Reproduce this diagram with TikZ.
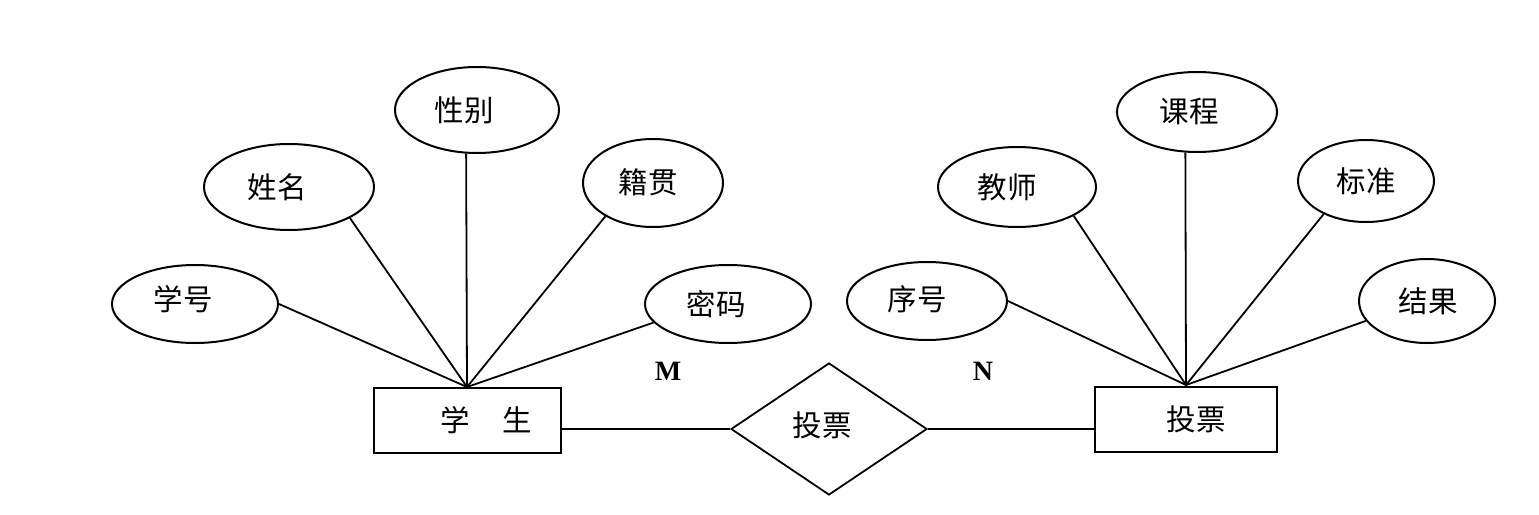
\documentclass[tikz,border=0pt]{standalone}
\usepackage{fontspec}
\setmainfont{Liberation Serif}
\newfontfamily\cjk{Noto Sans CJK SC}
\usetikzlibrary{shapes.geometric}
\newcommand\shifted[3]{\hspace*{#1pt}\raisebox{#2pt}{#3}}
\begin{document}
\begin{tikzpicture}[x=1pt,y=-1pt,
  attr/.style={draw,line width=2pt,ellipse,inner sep=0pt,font=\cjk\fontsize{29.5}{29.5}\selectfont},
  ent/.style={draw,line width=2pt,rectangle,inner sep=0pt,font=\cjk\fontsize{29.5}{29.5}\selectfont},
  rel/.style={draw,line width=1.8pt,diamond,aspect=1.5,inner sep=0pt,font=\cjk\fontsize{29.5}{29.5}\selectfont},
  link/.style={line width=1.8pt},
  card/.style={font=\bfseries\fontsize{28}{28}\selectfont}]
\useasboundingbox (0,0) rectangle (1539,514);
\fill[white] (0,0) rectangle (1539,514);
\node[ent,minimum width=187pt,minimum height=65pt] (s) at (467,420.5) {\shifted{39}{-5}{学\hspace{33pt}生}};
\node[ent,minimum width=182pt,minimum height=65pt] (v) at (1186,419) {\shifted{20}{-6}{投票}};
\node[rel,minimum width=196pt,minimum height=132pt] (r) at (829,429) {\shifted{-14}{10}{投票}};
\coordinate (sa) at (467,387);
\coordinate (va) at (1186,385);
\node[attr,minimum width=166pt,minimum height=78pt] (a1) at (195,304) {\shifted{-24}{12}{学号}};
\node[attr,minimum width=170pt,minimum height=86pt] (a2) at (289,187) {\shifted{-24}{0}{姓名}};
\node[attr,minimum width=164pt,minimum height=86pt] (a3) at (477,110) {\shifted{-26}{2}{性别}};
\node[attr,minimum width=140pt,minimum height=88pt] (a4) at (653,183) {\shifted{-10}{4}{籍贯}};
\node[attr,minimum width=166pt,minimum height=78pt] (a5) at (728,304) {\shifted{-24}{2}{密码}};
\node[attr,minimum width=160pt,minimum height=78pt] (b1) at (927,301) {\shifted{-20}{6}{序号}};
\node[attr,minimum width=158pt,minimum height=80pt] (b2) at (1017,187) {\shifted{-20}{0}{教师}};
\node[attr,minimum width=160pt,minimum height=80pt] (b3) at (1197,112) {\shifted{-16}{4}{课程}};
\node[attr,minimum width=136pt,minimum height=82pt] (b4) at (1366,181) {\shifted{0}{0}{标准}};
\node[attr,minimum width=136pt,minimum height=84pt] (b5) at (1427,301) {\shifted{2}{0}{结果}};
\draw[link] (a1.east) -- (sa);
\draw[link] (a2.-27) -- (sa);
\draw[link] (a3.256) -- (sa);
\draw[link] (a4.215) -- (sa);
\draw[link] (a5.194) -- (sa);
\draw[link] (b1.east) -- (va);
\draw[link] (b2.-27) -- (va);
\draw[link] (b3.254.6) -- (va);
\draw[link] (b4.218) -- (va);
\draw[link] (b5.198) -- (va);
\draw[link] (s.east |- r.west) -- (r.west);
\draw[link] (r.east) -- (v.west |- r.east);
\node[card] (m) at (668,371) {M};
\node[card] (n) at (983,371) {N};
\end{tikzpicture}
\end{document}
